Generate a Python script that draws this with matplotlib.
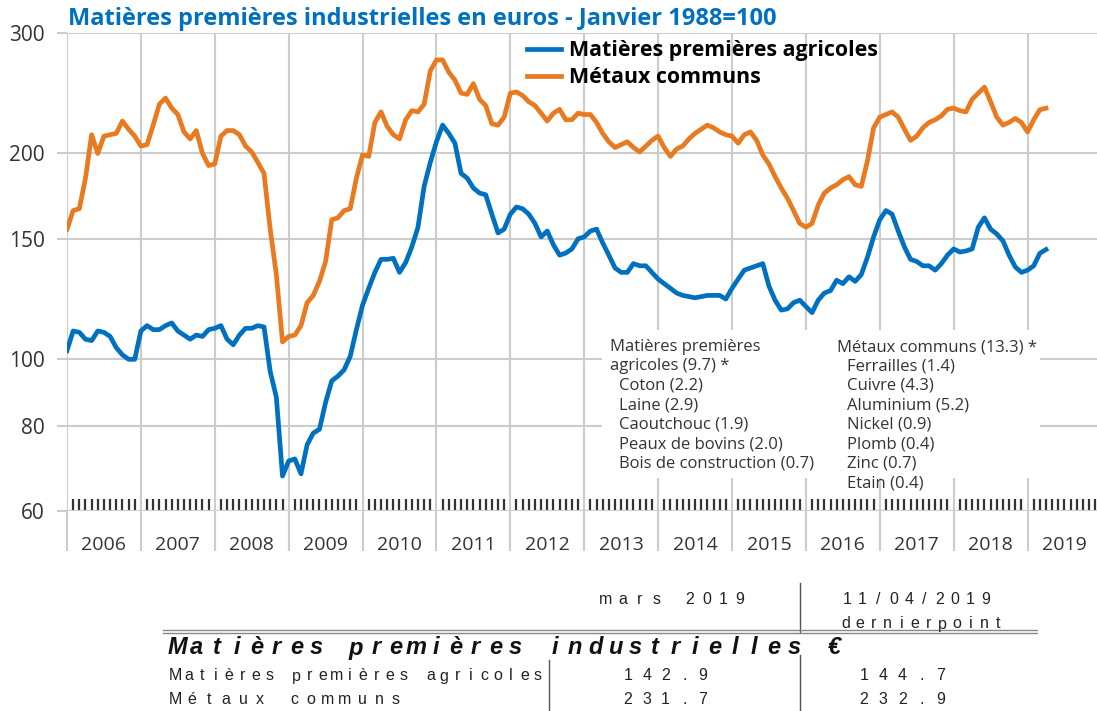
import numpy as np
import pandas as pd
import matplotlib
matplotlib.use('Agg')
import matplotlib.pyplot as plt
import matplotlib.transforms as mtransforms
from matplotlib.ticker import FixedLocator, NullLocator
from matplotlib.patches import Rectangle
from matplotlib.lines import Line2D

# monthly index values, Jan 2006 -> Apr 2019 (Janvier 1988 = 100)
agri = [103, 110, 109.5, 107, 106.5, 110, 109.5, 108, 104, 101.5, 100, 100,
        110, 112, 110.5, 110.5, 112, 113, 110, 108.5, 107, 108.5, 108, 110.5,
        111, 112, 107, 105, 108.5, 111, 111, 112, 111.5, 96, 88, 67.5,
        71, 71.5, 68, 75, 78, 79, 86.5, 93, 94.5, 96.5, 101, 110.5,
        120, 127, 134, 140, 140, 140.5, 134, 138.5, 146, 156, 179, 194,
        208, 220, 214, 207, 187, 184, 178, 175, 174, 163, 153, 155,
        163, 167, 166, 163, 158, 151, 154, 147, 142, 143, 145, 150,
        151, 154, 155, 148, 142, 136, 134, 134, 138, 137, 137, 134,
        131, 129, 127, 125, 124, 123.5, 123, 123.5, 124, 124, 124, 122.5,
        127, 131, 135, 136, 137, 138, 128, 122, 118, 118.5, 121, 122,
        119.5, 117, 122, 125, 126, 130.5, 129, 132, 130, 133, 141, 151,
        160, 165, 163, 154, 146, 140, 139, 137, 137, 135, 138, 142,
        145, 143.5, 144, 145, 156, 161, 155, 152.5, 149, 142, 136.5, 134,
        135, 137, 142.9, 144.7]

metaux = [155, 165, 166, 184, 213, 200, 212, 213, 214, 223, 217, 212,
          205, 206, 220, 236, 241, 233, 228, 215, 210, 216, 200, 192,
          193, 212, 216, 216, 213, 205, 201, 194, 187, 155, 133, 106,
          108, 108.5, 112, 121, 124, 130, 139, 160, 161, 165, 166, 184,
          199, 198, 222, 230, 219, 213, 210, 224, 231, 230, 236, 264,
          274, 274, 263, 256, 245, 244, 253, 240, 235, 221, 220, 226,
          245, 246, 243, 238, 235, 229, 223, 229, 232, 224, 224, 229,
          228, 228, 222, 214, 208, 204, 206, 208, 204, 201, 205, 209,
          212, 204, 198, 203, 205, 210, 214, 217, 220, 218, 215, 213,
          212, 207, 213, 215, 209, 199, 193, 185, 178, 172, 165, 158,
          156, 158, 168, 175, 178, 180, 183, 185, 180, 179, 195, 218,
          226, 228, 230, 226, 217, 209, 212, 218, 222, 224, 227, 232,
          233, 231, 230, 240, 245, 250, 238, 226, 220, 222, 225, 222,
          215, 224, 231.7, 232.9]

months = pd.date_range('2006-01-01', periods=len(agri), freq='MS')
t = months.year + (months.month - 1) / 12

years = list(range(2006, 2020))
yticks = [60, 80, 100, 150, 200, 300]

agri_head = ['Matières premières', 'agricoles (9.7) *']
agri_items = ['Coton (2.2)', 'Laine (2.9)', 'Caoutchouc (1.9)',
              'Peaux de bovins (2.0)', 'Bois de construction (0.7)']
metaux_head = ['Métaux communs (13.3) *']
metaux_items = ['Ferrailles (1.4)', 'Cuivre (4.3)', 'Aluminium (5.2)', 'Nickel (0.9)',
                'Plomb (0.4)', 'Zinc (0.7)', 'Etain (0.4)']

table_title = 'Matières premières industrielles €'
table_cols = ['mars 2019', '11/04/2019']
table_sub = 'dernierpoint'
table_rows = ['Matières premières agricoles', 'Métaux communs']
table_vals = [[142.9, 144.7], [231.7, 232.9]]

BLUE = '#0070C0'
ORANGE = '#E97A1F'
GRID = '#CCCCCC'
TXT = '#333333'
W, H = 1097, 711

plt.rcParams['font.family'] = ['Open Sans', 'DejaVu Sans']


def fx(px):
    return px / W


def fy(py):
    return 1 - py / H


def spread(fig, s, x0, x1, y, **kw):
    # letter-spaced text: glyph centres evenly from x0 to x1 (pixels)
    n = len(s)
    for i, ch in enumerate(s):
        if ch == ' ':
            continue
        x = x0 + (x1 - x0) * i / (n - 1)
        fig.text(fx(x), fy(y), ch, ha='center', va='center', **kw)


fig = plt.figure(figsize=(W / 100, H / 100), dpi=100)
ax = fig.add_axes([fx(67), fy(511), fx(1097) - fx(67), fy(33) - fy(511)])

ax.plot(t, agri, color=BLUE, lw=3.4, solid_joinstyle='round', label='Matières premières agricoles', zorder=3)
ax.plot(t, metaux, color=ORANGE, lw=3.4, solid_joinstyle='round', label='Métaux communs', zorder=3)

ax.set_yscale('log')
ax.set_ylim(60, 300)
ax.set_xlim(2006, 2019.94)

ax.yaxis.set_major_locator(FixedLocator(yticks))
ax.yaxis.set_minor_locator(NullLocator())
ax.set_yticklabels([str(v) for v in yticks])
ax.tick_params(axis='y', which='major', length=7, width=1.5, color=GRID, pad=9,
               labelsize=15, labelcolor=TXT)

ax.xaxis.set_major_locator(FixedLocator(years))
ax.xaxis.set_minor_locator(FixedLocator(np.arange(2006, 2020, 1 / 12)))
ax.tick_params(axis='x', which='major', length=29, width=1.5, color=GRID, labelbottom=False)
ax.tick_params(axis='x', which='minor', direction='in', length=9, width=1.6, color='#333333')

ax.grid(True, which='major', color=GRID, lw=1.5, zorder=0)
for s in ax.spines.values():
    s.set_visible(False)

trans = mtransforms.blended_transform_factory(ax.transData, ax.transAxes)
for y in years:
    ax.text(y + 0.5, -0.071, str(y), transform=trans, ha='center', va='center',
            fontsize=14, color=TXT)

fig.text(fx(68), fy(19), 'Matières premières industrielles en euros - Janvier 1988=100',
         color=BLUE, fontsize=17, fontweight='bold', va='center', ha='left')

ax.legend(loc='upper left', bbox_to_anchor=(fx(527), fy(40)), bbox_transform=fig.transFigure,
          frameon=False, prop=dict(weight='bold', size=15.4), handlelength=1.6,
          handletextpad=0.35, labelspacing=0.3, borderaxespad=0, borderpad=0)

# weights box
fig.add_artist(Rectangle((fx(602), fy(478)), fx(1040) - fx(602), fy(330) - fy(478),
                         transform=fig.transFigure, fc='white', ec='none', zorder=1))
pitch = 19.5
tk = dict(fontsize=12, color=TXT, va='center', zorder=2)
for i, s in enumerate(agri_head):
    fig.text(fx(610), fy(347 + i * pitch), s, **tk)
for i, s in enumerate(agri_items):
    fig.text(fx(619), fy(347 + (i + 2) * pitch), s, **tk)
for i, s in enumerate(metaux_head):
    fig.text(fx(837), fy(347 + i * pitch), s, **tk)
for i, s in enumerate(metaux_items):
    fig.text(fx(847), fy(347 + (i + 1) * pitch), s, **tk)

# table under the chart
tf = dict(family='Liberation Sans', color='#222222', fontsize=11.5)
spread(fig, table_cols[0], 606, 740, 599, **tf)
spread(fig, table_cols[1], 847, 986, 599, **tf)
spread(fig, table_sub, 846, 998, 624, **tf)
spread(fig, table_title, 177, 834, 648, family='Liberation Sans', color='#111111',
       fontsize=17, fontweight='bold', fontstyle='italic')
row_ends = [538, 396]
for r, (name, vals) in enumerate(zip(table_rows, table_vals)):
    yy = 676 + r * 24
    spread(fig, name, 175, row_ends[r], yy, **tf)
    spread(fig, f'{vals[0]:.1f}', 628, 703, yy, **tf)
    spread(fig, f'{vals[1]:.1f}', 864, 941, yy, **tf)

lk = dict(transform=fig.transFigure, color='#555555', lw=1)
fig.add_artist(Line2D([fx(800), fx(800)], [fy(583), fy(632)], **lk))
fig.add_artist(Line2D([fx(800), fx(800)], [fy(655), fy(711)], **lk))
fig.add_artist(Line2D([fx(549), fx(549)], [fy(660), fy(711)], **lk))
fig.add_artist(Line2D([fx(163), fx(1037)], [fy(630), fy(630)], transform=fig.transFigure, color='#888888', lw=1))
fig.add_artist(Line2D([fx(163), fx(1037)], [fy(633), fy(633)], transform=fig.transFigure, color='#888888', lw=1))

fig.savefig('out.png', dpi=100)
